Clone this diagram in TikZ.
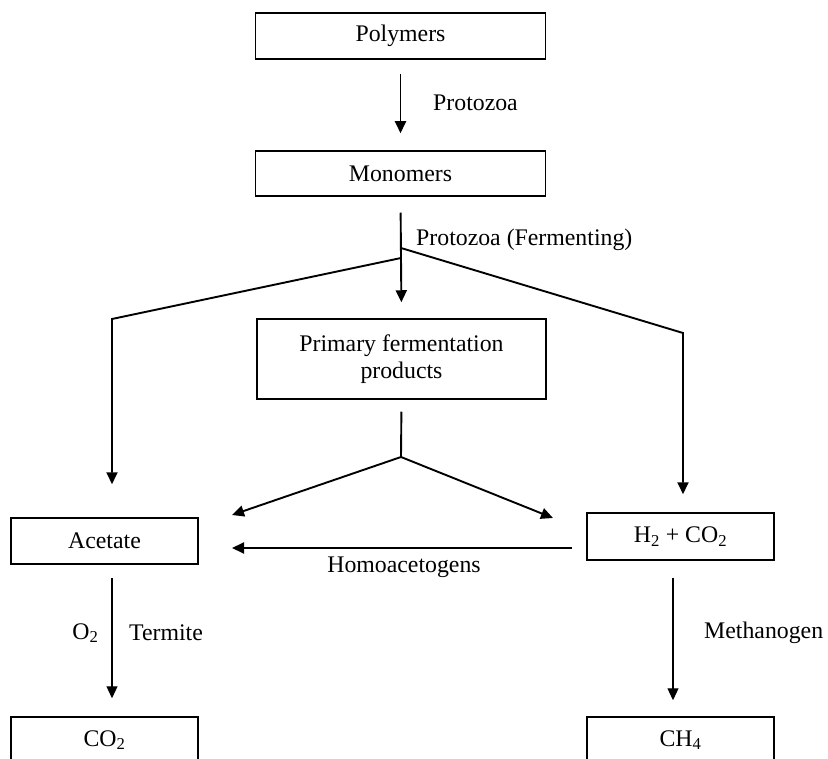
\documentclass[tikz,border=0pt]{standalone}
\usepackage{fontspec}
\setmainfont{Liberation Serif}
\usetikzlibrary{arrows.meta}
\begin{document}
\begin{tikzpicture}[x=1pt,y=-1pt,
  txt/.style={font=\fontsize{23.8}{27}\selectfont, inner sep=0pt},
  box/.style={txt, draw, line width=1.5pt, align=center},
  lineA/.style={line width=1.9pt},
  arrA/.style={line width=1.9pt, -{Triangle[length=12pt,width=11pt]}},
  arrB/.style={line width=1.2pt, -{Triangle[length=12pt,width=11pt]}}]
\useasboundingbox (0,0) rectangle (828,759);
% boxes
\node[box, minimum width=290pt, minimum height=46pt] (poly) at (400.5,36) {Polymers};
\node[box, minimum width=290pt, minimum height=45pt] (mono) at (400.5,173.5) {Monomers};
\node[box, minimum width=289pt, minimum height=80pt] (prim) at (401.5,359) {Primary fermentation\\products};
\node[box, minimum width=187pt, minimum height=46pt] (acet) at (104.5,541) {Acetate};
\node[box, minimum width=187pt, minimum height=47pt] (h2) at (680.5,536.5) {H\textsubscript{2} + CO\textsubscript{2}};
\node[box, minimum width=187pt, minimum height=46pt] (co2) at (104.5,740) {CO\textsubscript{2}};
\node[box, minimum width=187pt, minimum height=46pt] (ch4) at (680.5,740) {CH\textsubscript{4}};
% labels
\node[txt, anchor=west] (lp1) at (433,103) {Protozoa};
\node[txt, anchor=west] (lp2) at (416,240) {Protozoa (Fermenting)};
\node[txt] (lho) at (404,567) {Homoacetogens};
\node[txt] (lo2) at (85.5,633) {O\textsubscript{2}};
\node[txt, anchor=west] (lte) at (129,633) {Termite};
\node[txt, anchor=west] (lme) at (704,633) {Methanogen};
% coordinates
\coordinate (fkL) at (401,258);
\coordinate (fkR) at (401,248);
\coordinate (lc) at (112,319);
\coordinate (rc) at (683,333);
\coordinate (pf) at (401,457);
\coordinate (tl) at (232,515);
\coordinate (tr) at (553,518);
\coordinate (hA) at (572,548);
\coordinate (hB) at (232,548);
% connectors
\draw[arrA, shorten <=14pt, shorten >=17pt] (poly.south) -- (mono.north);
\draw[arrA, shorten <=16pt, shorten >=16pt] (mono.south) -- (prim.north);
\draw[arrA, shorten >=33pt] (fkL) -- (lc) -- (lc |- acet.north);
\draw[arrA, shorten >=18pt] (fkR) -- (rc) -- (rc |- h2.north);
\draw[lineA, shorten <=12pt] (prim.south) -- (pf);
\draw[arrA] (pf) -- (tl);
\draw[arrA] (pf) -- (tr);
\draw[arrA] (hA) -- (hB);
\draw[arrB, shorten <=13pt, shorten >=18pt] ([xshift=7.5pt]acet.south) -- ([xshift=7.5pt]co2.north);
\draw[arrB, shorten <=17pt, shorten >=16pt] ([xshift=-7.5pt]h2.south) -- ([xshift=-7.5pt]ch4.north);
\end{tikzpicture}
\end{document}
